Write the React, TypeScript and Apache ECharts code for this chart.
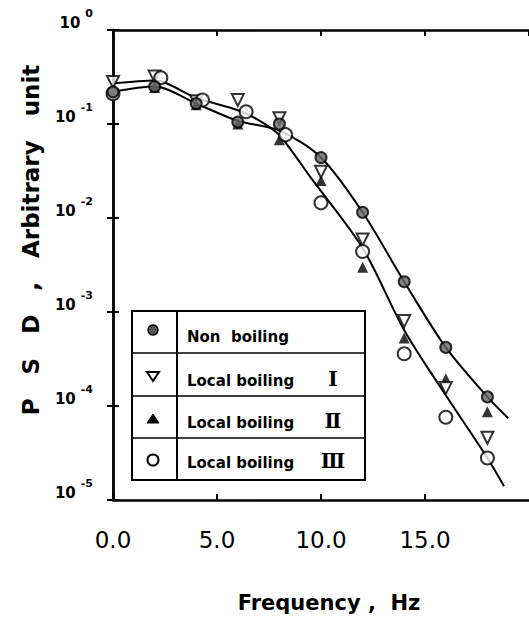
import React, { useEffect, useRef } from 'react';
import * as echarts from 'echarts';

// ---- data ----
const freq = [0, 2, 4, 6, 8, 10, 12, 14, 16, 18];
const freqIII = [0, 2.3, 4.3, 6.4, 8.3, 10, 12, 14, 16, 18];
const nonBoiling = [0.22, 0.25, 0.165, 0.105, 0.1, 0.044, 0.0115, 0.0021, 4.2e-4, 1.25e-4];
const localI = [0.28, 0.32, 0.175, 0.18, 0.115, 0.031, 0.0059, 8.0e-4, 1.55e-4, 4.6e-5];
const localII = [0.21, 0.245, 0.16, 0.1, 0.068, 0.025, 0.003, 5.3e-4, 1.95e-4, 8.7e-5];
const localIII = [0.21, 0.31, 0.18, 0.135, 0.077, 0.0145, 0.0044, 3.6e-4, 7.6e-5, 2.8e-5];

const fitFreqA = [0, 2, 4, 6, 8, 10, 12, 14, 16, 18, 19];
const fitNonBoiling = [0.22, 0.25, 0.165, 0.108, 0.085, 0.044, 0.0115, 0.0021, 4.2e-4, 1.25e-4, 7.4e-5];
const fitFreqB = [0, 2, 4, 6, 7, 8, 9.5, 12, 14, 16, 18, 18.8];
const fitLocal = [0.27, 0.29, 0.19, 0.14, 0.11, 0.076, 0.027, 0.0048, 6.4e-4, 1.3e-4, 2.8e-5, 1.4e-5];

const legendNames = ['Non  boiling', 'Local boiling', 'Local boiling', 'Local boiling'];
const legendNumerals = ['', 'Ⅰ', 'Ⅱ', 'Ⅲ'];
const xTitle = 'Frequency ,  Hz';
const yTitle = 'P   S   D   ,   Arbitrary   unit';

const pairs = (xs: number[], ys: number[]) => xs.map((x, i) => [x, ys[i]]);

export default function App() {
  const ref = useRef<HTMLDivElement>(null);
  useEffect(() => {
    if (!ref.current) return;
    const chart = echarts.init(ref.current, null, { renderer: 'svg' });
    const font = 'DejaVu Sans';
    const axisLine = { show: true, lineStyle: { color: '#000', width: 2.5 } };
    const axisTick = { show: true, inside: true, length: 6, lineStyle: { color: '#000', width: 2 } };

    // legend table
    const L = { x0: 132, x1: 365, xd: 177, y0: 311, y1: 480 };
    const rows = [311, 353, 396, 438, 480];
    const symY = [330, 376, 419, 460];
    const txtY = [337, 381, 423, 463];
    const graphic: any[] = [
      { type: 'rect', shape: { x: L.x0, y: L.y0, width: L.x1 - L.x0, height: L.y1 - L.y0 }, style: { fill: '#fff', stroke: '#000', lineWidth: 2 }, z: 10 },
      { type: 'line', shape: { x1: L.xd, y1: L.y0, x2: L.xd, y2: L.y1 }, style: { stroke: '#000', lineWidth: 2 }, z: 11 },
    ];
    rows.slice(1, 4).forEach((y) => {
      graphic.push({ type: 'line', shape: { x1: L.x0, y1: y, x2: L.x1, y2: y }, style: { stroke: '#000', lineWidth: 1.5 }, z: 11 });
    });
    graphic.push({ type: 'circle', shape: { cx: 153, cy: symY[0], r: 5 }, style: { fill: '#555', stroke: '#000', lineWidth: 1.5 }, z: 12 });
    graphic.push({ type: 'polygon', shape: { points: [[147, symY[1] - 4], [159, symY[1] - 4], [153, symY[1] + 5]] }, style: { fill: '#fff', stroke: '#000', lineWidth: 2 }, z: 12 });
    graphic.push({ type: 'polygon', shape: { points: [[147, symY[2] + 4], [159, symY[2] + 4], [153, symY[2] - 5]] }, style: { fill: '#000', stroke: '#000', lineWidth: 1 }, z: 12 });
    graphic.push({ type: 'circle', shape: { cx: 153, cy: symY[3], r: 5.5 }, style: { fill: '#fff', stroke: '#000', lineWidth: 2 }, z: 12 });
    legendNames.forEach((t, i) => {
      graphic.push({ type: 'text', x: 187, y: txtY[i], z: 12, style: { text: t, fill: '#000', font: `bold 15px "${font}"`, align: 'left', verticalAlign: 'middle' } });
      if (legendNumerals[i]) {
        graphic.push({ type: 'text', x: 333, y: txtY[i] - 2, z: 12, style: { text: legendNumerals[i], fill: '#000', font: 'bold 20px "DejaVu Serif", "Noto Sans CJK JP", serif', align: 'center', verticalAlign: 'middle' } });
      }
    });
    // axis titles
    graphic.push({ type: 'text', x: 329, y: 603, style: { text: xTitle, fill: '#000', font: `bold 21px "${font}"`, align: 'center', verticalAlign: 'middle' } });
    graphic.push({ type: 'text', x: 31, y: 240, rotation: Math.PI / 2, style: { text: yTitle, fill: '#000', font: `bold 23px "${font}"`, align: 'center', verticalAlign: 'middle' } });

    const markerBase = { type: 'scatter', z: 5, silent: true };

    chart.setOption({
      animation: false,
      backgroundColor: '#fff',
      grid: { left: 113, top: 30, width: 420, height: 470 },
      xAxis: [
        {
          type: 'value', min: 0, max: 20, interval: 5, position: 'bottom',
          axisLine, axisTick, splitLine: { show: false },
          axisLabel: {
            margin: 28, color: '#000', fontFamily: font, fontSize: 23, showMaxLabel: false,
            formatter: (v: number) => (v >= 20 ? '' : v.toFixed(1)),
          },
        },
        {
          type: 'value', min: 0, max: 20, interval: 5, position: 'top',
          axisLine, axisTick, splitLine: { show: false }, axisLabel: { show: false },
        },
      ],
      yAxis: [
        {
          type: 'log', logBase: 10, min: 1e-5, max: 1, position: 'left',
          axisLine, axisTick, splitLine: { show: false }, minorTick: { show: false },
          axisLabel: {
            margin: 20, color: '#000',
            formatter: (v: number) => `{b|10}{s|${Math.round(Math.log10(v))}}`,
            rich: {
              b: { fontFamily: font, fontWeight: 'bold', fontSize: 15, color: '#000', padding: [0, 0, 14, 0] },
              s: { fontFamily: font, fontWeight: 'bold', fontSize: 11, color: '#000', padding: [0, 0, 34, 5] },
            },
          },
        },
        {
          type: 'log', logBase: 10, min: 1e-5, max: 1, position: 'right',
          axisLine, axisTick, splitLine: { show: false }, axisLabel: { show: false },
        },
      ],
      graphic,
      series: [
        { type: 'line', name: 'fit non boiling', data: pairs(fitFreqA, fitNonBoiling), smooth: 0.3, showSymbol: false, lineStyle: { color: '#000', width: 2 }, z: 2, silent: true },
        { type: 'line', name: 'fit local boiling', data: pairs(fitFreqB, fitLocal), smooth: 0.3, showSymbol: false, lineStyle: { color: '#000', width: 2 }, z: 2, silent: true },
        { ...markerBase, name: 'Local boiling II', data: pairs(freq, localII), symbol: 'triangle', symbolSize: 11, itemStyle: { color: '#000' } },
        { ...markerBase, name: 'Local boiling I', data: pairs(freq, localI), symbol: 'triangle', symbolRotate: 180, symbolSize: 12, itemStyle: { color: '#fff', borderColor: '#000', borderWidth: 2 } },
        { ...markerBase, name: 'Local boiling III', data: pairs(freqIII, localIII), symbol: 'circle', symbolSize: 13, itemStyle: { color: '#fff', borderColor: '#000', borderWidth: 2 } },
        { ...markerBase, name: 'Non boiling', data: pairs(freq, nonBoiling), symbol: 'circle', symbolSize: 11, itemStyle: { color: '#666', borderColor: '#000', borderWidth: 2 } },
      ],
    });
    return () => chart.dispose();
  }, []);
  return <div ref={ref} style={{ position: 'fixed', left: 0, top: 0, width: 529, height: 621, background: '#fff' }} />;
}
